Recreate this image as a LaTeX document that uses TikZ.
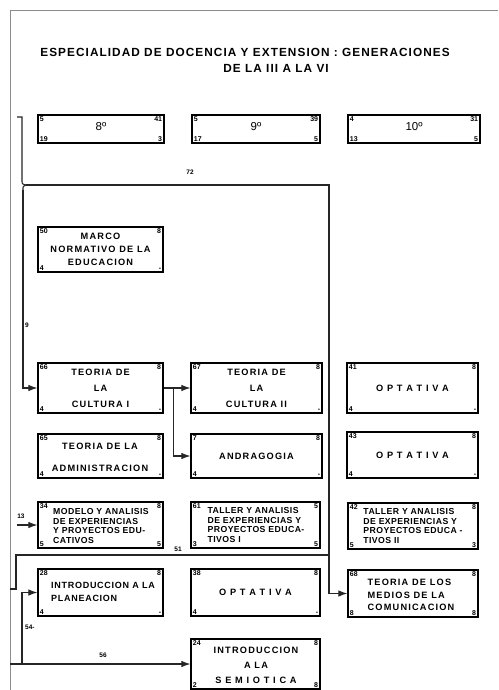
\documentclass[tikz,border=0pt]{standalone}
\usepackage{fontspec}
\setmainfont{Liberation Sans}
\newfontfamily\lett[LetterSpace=13]{Liberation Sans}
\newfontfamily\lettm[LetterSpace=8]{Liberation Sans}
\newfontfamily\lettn[LetterSpace=5]{Liberation Sans}
\newfontfamily\lettt[LetterSpace=9]{Liberation Sans}
\usetikzlibrary{arrows.meta,calc}
\tikzset{
  cbox/.style={draw, line width=1.2pt, inner sep=0pt, rectangle},
  lbl/.style={font=\lett\bfseries\fontsize{9.2}{13}\selectfont, align=center, inner sep=0pt},
  lbls/.style={font=\lettn\bfseries\fontsize{8.7}{9.8}\selectfont, align=left, inner sep=0pt},
  num/.style={font=\bfseries\fontsize{7}{7.5}\selectfont, inner sep=2.3pt},
  big/.style={font=\fontsize{11.5}{12}\selectfont, inner sep=0pt},
  conn/.style={line width=1.1pt, draw=black!85},
  arr/.style={conn, -{Latex[length=9pt,width=6.5pt]}},
  clbl/.style={font=\bfseries\fontsize{6.5}{7}\selectfont, inner sep=1pt},
  ttl/.style={font=\lettt\bfseries\fontsize{11.8}{13}\selectfont, inner sep=0pt},
}
\newcommand\mybox[9]{%
  \node[cbox, minimum width={(#4-#2)*1pt}, minimum height={(#5-#3)*1pt}] (#1) at ({(#2+#4)/2},{(#3+#5)/2}) {};
  \node[num, anchor=north west] (#1-tl) at (#1.north west) {#6};
  \node[num, anchor=north east] (#1-tr) at (#1.north east) {#7};
  \node[num, anchor=south west] (#1-bl) at (#1.south west) {#8};
  \node[num, anchor=south east] (#1-br) at (#1.south east) {#9};
}
\begin{document}
\begin{tikzpicture}[x=1pt,y=-1pt]
\useasboundingbox (0,0) rectangle (498,690);
\fill[white] (0,0) rectangle (498,690);

% title
\node[ttl] (title1) at (245,52) {ESPECIALIDAD DE DOCENCIA Y EXTENSION : GENERACIONES};
\node[ttl] (title2) at (276,68) {DE LA III A LA VI};

% header boxes
\mybox{h8}{38}{115}{164}{143}{5}{41}{19}{3}
\node[big] (h8-t) at (101,127) {8º};
\mybox{h9}{192}{115}{320}{143}{5}{39}{17}{5}
\node[big] (h9-t) at (256,127) {9º};
\mybox{h10}{348}{115}{480}{143}{4}{31}{13}{5}
\node[big] (h10-t) at (414,127) {10º};

% column 1
\mybox{marco}{38}{227}{163}{272}{50}{8}{4}{-}
\node[lbl] (marco-t) at (marco) {MARCO\\NORMATIVO DE LA\\EDUCACION};
\mybox{cult1}{38}{363}{163}{413}{66}{8}{4}{-}
\node[lbl, font=\lett\bfseries\fontsize{9.2}{16}\selectfont] (cult1-t) at (cult1) {TEORIA DE\\LA\\CULTURA I};
\mybox{admin}{38}{434}{163}{478}{65}{8}{4}{-}
\node[lbl, font=\lett\bfseries\fontsize{9.2}{22}\selectfont] (admin-t) at (100,457) {TEORIA DE LA\\ADMINISTRACION};
\mybox{modelo}{38}{502}{163}{548}{34}{8}{5}{5}
\node[lbls] (modelo-t) at (101,526) {MODELO Y ANALISIS\\DE EXPERIENCIAS\\Y PROYECTOS EDU-\\CATIVOS};
\mybox{plan}{38}{569}{163}{616}{28}{8}{4}{-}
\node[lbl, align=left, anchor=west, font=\lettm\bfseries\fontsize{9}{13}\selectfont] (plan-t) at (51,592) {INTRODUCCION A LA\\PLANEACION};

% column 2
\mybox{cult2}{191}{363}{322}{413}{67}{8}{4}{-}
\node[lbl, font=\lett\bfseries\fontsize{9.2}{16}\selectfont] (cult2-t) at (cult2) {TEORIA DE\\LA\\CULTURA II};
\mybox{andra}{191}{434}{322}{478}{7}{8}{4}{-}
\node[lbl] (andra-t) at (andra) {ANDRAGOGIA};
\mybox{taller1}{191}{502}{320}{548}{61}{5}{3}{5}
\node[lbls] (taller1-t) at (256,525) {TALLER Y ANALISIS\\DE EXPERIENCIAS Y\\PROYECTOS EDUCA-\\TIVOS I};
\mybox{opt38}{191}{569}{320}{616}{38}{8}{4}{-}
\node[lbl] (opt38-t) at (opt38) {O P T A T I V A};
\mybox{semio}{191}{639}{320}{689}{24}{8}{2}{8}
\node[lbl, font=\lett\bfseries\fontsize{9.2}{15}\selectfont] (semio-t) at (256,665) {INTRODUCCION\\A LA\\S E M I O T I C A};

% column 3
\mybox{opt41}{347}{363}{478}{413}{41}{8}{4}{-}
\node[lbl] (opt41-t) at (opt41) {O P T A T I V A};
\mybox{opt43}{347}{432}{478}{478}{43}{8}{4}{-}
\node[lbl] (opt43-t) at (opt43) {O P T A T I V A};
\mybox{taller2}{348}{503}{478}{549}{42}{8}{5}{3}
\node[lbls] (taller2-t) at (413,526) {TALLER Y ANALISIS\\DE EXPERIENCIAS Y\\PROYECTOS EDUCA -\\TIVOS II};
\mybox{medios}{348}{570}{478}{617}{68}{8}{8}{8}
\node[lbl, align=left, font=\lett\bfseries\fontsize{9.2}{12.5}\selectfont] (medios-t) at (411,595) {TEORIA DE LOS\\MEDIOS DE LA\\COMUNICACION};

% frame
\coordinate (ftr) at (498,10);
\coordinate (ftl) at (10,10);
\coordinate (fbl) at (10,690);
\draw[conn, draw=black!45, line width=0.9pt] (ftr) -- (ftl) -- (fbl);

% brace and 72 line
\coordinate (brA) at (17,117);
\coordinate (brB) at (22,117);
\coordinate (brC) at (22,180);
\coordinate (brTip) at (26,185);
\coordinate (brD) at (23,190);
\coordinate (k72) at (329,185);
\draw[conn] (brA) -- (brB) -- (brC) .. controls (22,184) .. (brTip);
\draw[conn] (brTip) .. controls (23,186) .. (brD);
\draw[arr] (brTip) -- (k72) |- (medios.west);
\draw[arr] (brD) |- (cult1.west);
\node[clbl] (l72) at (190,172) {72};
\node[clbl, anchor=west] (l9) at (24,325) {9};

% cultura split
\coordinate (split) at ($(cult1.east)+(10,0)$);
\draw[arr] (cult1.east) -- (cult2.west);
\draw[arr] (split) |- (andra.west);

% 13
\coordinate (s13) at (17,525);
\draw[arr] (s13) -- (modelo.west);
\node[clbl] (l13) at (21,516) {13};

% 51
\coordinate (k51a) at (329,555);
\coordinate (k51b) at (16,555);
\coordinate (k51c) at (16,589);
\coordinate (k51d) at (10,589);
\draw[conn] (k51a) -- (k51b) -- (k51c) -- (k51d);
\node[clbl] (l51) at (178,549) {51};

% 56 and 54
\coordinate (f56) at (10,664);
\coordinate (j54) at (22,664);
\draw[arr] (f56) -- (semio.west);
\draw[arr] (j54) |- (plan.west);
\node[clbl] (l56) at (103,655) {56};
\node[clbl, anchor=west] (l54) at (24,627) {54-};
\end{tikzpicture}
\end{document}
